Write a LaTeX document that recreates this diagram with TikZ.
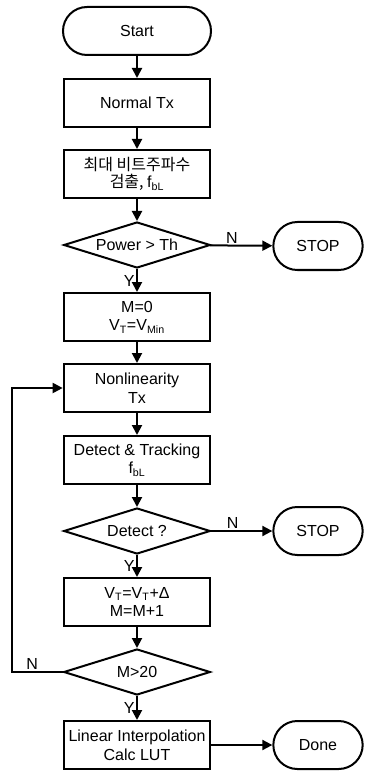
\documentclass[tikz,border=0pt]{standalone}
\usepackage{fontspec}
\setmainfont{Liberation Sans}
\newfontfamily\krfont{Noto Sans CJK KR}
\usetikzlibrary{shapes.geometric,arrows.meta}

\begin{document}
\begin{tikzpicture}[x=0.75pt,y=-0.75pt,
	every node/.style={font=\fontsize{12}{14}\selectfont},
	procbox/.style={draw,line width=1.5pt,minimum width=110pt,minimum height=36pt,inner sep=1pt,align=center},
	termbox/.style={draw,line width=1.5pt,rounded corners=18pt,minimum height=36pt,inner sep=1pt},
	testbox/.style={draw,line width=1.5pt,diamond,aspect=3.2,minimum width=110pt,minimum height=34.5pt,inner sep=0pt},
	flow/.style={line width=1.5pt,-{Triangle[length=7.5pt,width=7.5pt]}},
	lbl/.style={font=\fontsize{12}{14}\selectfont,inner sep=1pt}]
	\useasboundingbox (0,0) rectangle (364,773);
	% main column
	\node[termbox,minimum width=111pt] (start) at (137,31) {Start};
	\node[procbox] (normal) at (137,103) {Normal Tx};
	\node[procbox] (search) at (137,174) {\krfont 최대 비트주파수\\[-1pt]\krfont 검출, \rmfamily f\textsubscript{bL}};
	\node[testbox] (power) at (137,245) {Power > Th};
	\node[procbox] (init) at (137,317) {M=0\\V\textsubscript{T}=V\textsubscript{Min}};
	\node[procbox] (nonlin) at (137,388) {Nonlinearity\\Tx};
	\node[procbox] (track) at (137,460) {Detect \& Tracking\\f\textsubscript{bL}};
	\node[testbox] (detect) at (137,531) {Detect ?};
	\node[procbox] (step) at (137,602) {V\textsubscript{T}=V\textsubscript{T}+Δ\\M=M+1};
	\node[testbox] (count) at (137,672) {M>20};
	\node[procbox] (lut) at (137,745) {Linear Interpolation\\Calc LUT};
	% right column
	\node[termbox,minimum width=67pt] (stopa) at (318,246) {STOP};
	\node[termbox,minimum width=67pt] (stopb) at (318,531) {STOP};
	\node[termbox,minimum width=67pt] (done) at (318,745) {Done};
	\coordinate (back) at (12,672);

	\draw[flow] (start) -- (normal);
	\draw[flow] (normal) -- (search);
	\draw[flow] (search) -- (power);
	\draw[flow] (power) -- node[lbl,left,pos=0.5] {Y} (init);
	\draw[flow] (power) -- node[lbl,above,pos=0.35] {N} (stopa);
	\draw[flow] (init) -- (nonlin);
	\draw[flow] (nonlin) -- (track);
	\draw[flow] (track) -- (detect);
	\draw[flow] (detect) -- node[lbl,left,pos=0.5] {Y} (step);
	\draw[flow] (detect) -- node[lbl,above,pos=0.35] {N} (stopb);
	\draw[flow] (step) -- (count);
	\draw[flow] (count) -- node[lbl,left,pos=0.5] {Y} (lut);
	\draw[flow] (lut) -- (done);
	\draw[flow] (count.west) -- node[lbl,above,pos=0.6] {N} (back) |- (nonlin.west);
\end{tikzpicture}
\end{document}
